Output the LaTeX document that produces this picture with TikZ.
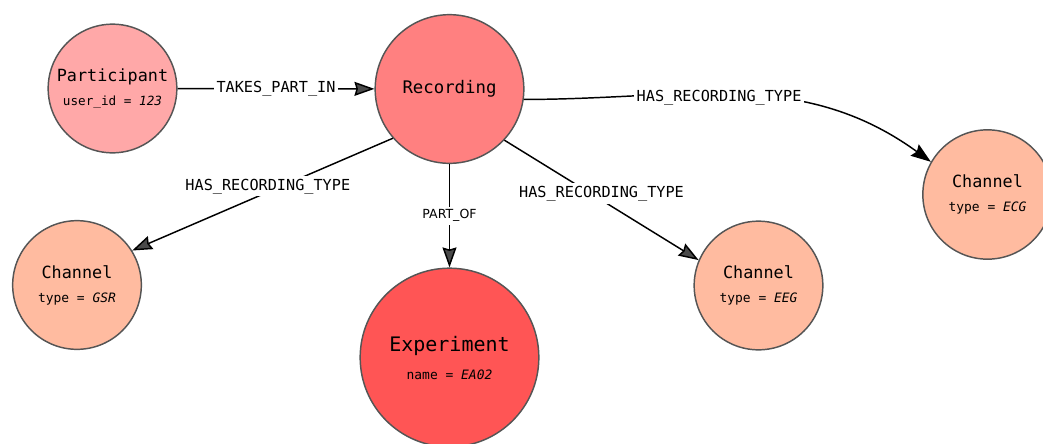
\documentclass[tikz,border=0pt]{standalone}
\usepackage{fontspec}
\setmonofont{DejaVu Sans Mono}
\newfontfamily\relsans{DejaVu Sans}
\usepackage{xcolor}
\usetikzlibrary{arrows.meta, positioning}
\definecolor{partfill}{HTML}{FFA8A8}
\definecolor{recfill}{HTML}{FF8080}
\definecolor{expfill}{HTML}{FF5555}
\definecolor{chanfill}{HTML}{FFBBA0}
\definecolor{rimgray}{HTML}{555555}
\definecolor{tipgray}{HTML}{4A4A4A}

\begin{document}
\begin{tikzpicture}[x=0.75pt, y=-0.75pt,
	ent/.style={circle, draw=rimgray, line width=1.1pt, inner sep=0pt, align=center, font=\ttfamily\fontsize{12.6}{18}\selectfont},
	rel/.style={draw=black, line width=1.1pt},
	lbl/.style={fill=white, inner sep=2pt, font=\ttfamily\fontsize{11.4}{13}\selectfont},
	gtip/.style={-{Stealth[length=15pt, width=10.5pt, inset=1.5pt, fill=tipgray]}}]
	\clip (0, 0) rectangle (1043, 443);
	% entities
	\node[ent, fill=partfill, minimum size=96.5pt] (participant) at (112.5, 88.5) {Participant\\{\fontsize{9.5}{12}\selectfont user\_id = \textit{123}}};
	\node[ent, fill=recfill, minimum size=111.5pt, font=\ttfamily\fontsize{13}{18}\selectfont] (recording) at (449.5, 89) {Recording};
	\node[ent, fill=expfill, minimum size=134pt, font=\ttfamily\fontsize{15}{21}\selectfont] (experiment) at (449.5, 357.5) {Experiment\\{\fontsize{9.7}{12}\selectfont name = \textit{EA02}}};
	\node[ent, fill=chanfill, minimum size=96.5pt] (gsr) at (77, 285) {Channel\\{\fontsize{9.7}{12}\selectfont type = \textit{GSR}}};
	\node[ent, fill=chanfill, minimum size=96.5pt] (eeg) at (758.5, 285.5) {Channel\\{\fontsize{9.7}{12}\selectfont type = \textit{EEG}}};
	\node[ent, fill=chanfill, minimum size=97pt] (ecg) at (987.5, 194.5) {Channel\\{\fontsize{9.7}{12}\selectfont type = \textit{ECG}}};
	% relationships
	\draw[rel, gtip] (participant) -- node[lbl]{TAKES\_PART\_IN} (recording);
	\draw[rel, gtip] (recording.221.8) -- node[lbl, yshift=6pt, xshift=4pt]{HAS\_RECORDING\_TYPE} (gsr.32.7);
	\draw[rel, gtip] (recording.-43.9) -- node[lbl, yshift=5pt]{HAS\_RECORDING\_TYPE} (eeg.157.7);
	\draw[rel, gtip] (recording) -- node[lbl, font=\relsans\fontsize{9.4}{11}\selectfont]{PART\_OF} (experiment);
	\draw[rel, -{Stealth[length=15pt, width=10.5pt, inset=2pt]}] (recording.-8.5) to[out=0, in=144] node[lbl, pos=0.45, yshift=-2.5pt]{HAS\_RECORDING\_TYPE} (ecg.150.7);
\end{tikzpicture}
\end{document}
